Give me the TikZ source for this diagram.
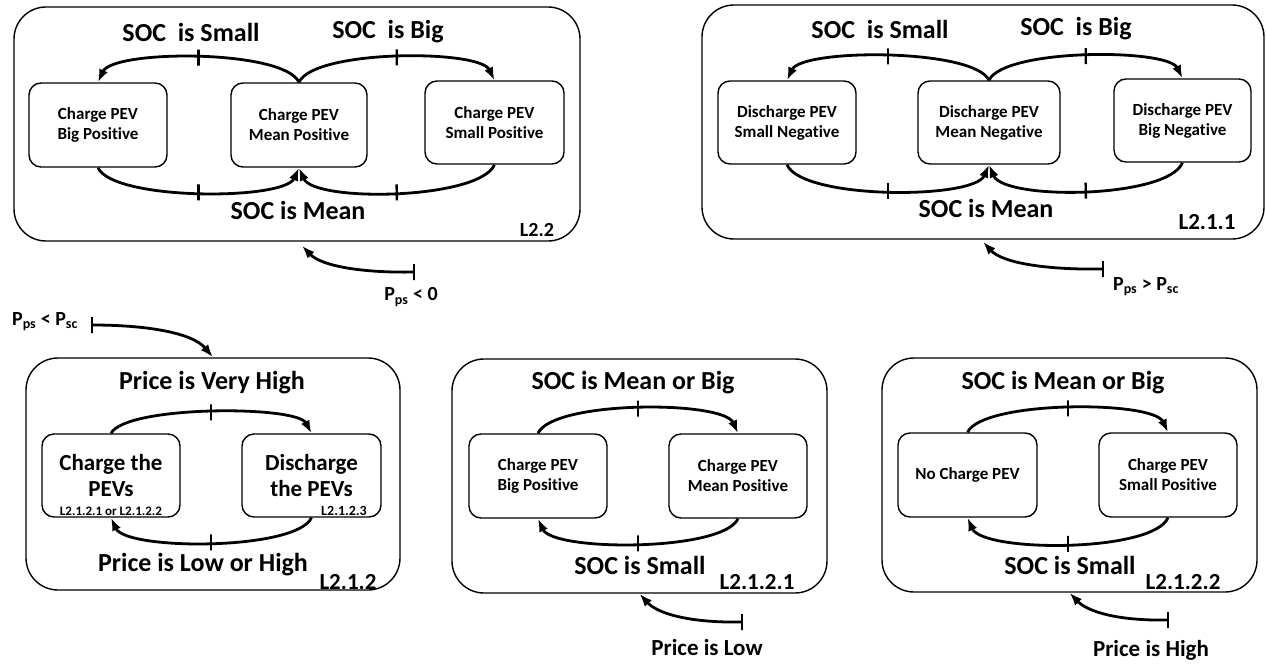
\documentclass[tikz,border=0pt]{standalone}
\usepackage{fontspec}
\setmainfont{Carlito}[Ligatures=NoCommon]
\usetikzlibrary{arrows.meta}
\newcommand\fsz[2]{\fontsize{#1}{#2}\selectfont\bfseries}
\begin{document}
\begin{tikzpicture}[x=1pt,y=-1pt,
  outer/.style={draw, line width=1.4pt, rounded corners=32pt, inner sep=0pt},
  inbox/.style={draw, line width=1.4pt, rounded corners=12pt, align=center, inner sep=0pt, font=\fsz{17}{20}},
  conn/.style={line width=2.8pt, -{Latex[length=13pt,width=9.5pt]}},
  tk/.style={draw, line width=2.4pt, line join=bevel, minimum width=0pt, minimum height=16pt, inner sep=0pt, sloped, anchor=center},
  big/.style={font=\fsz{26}{30}, inner sep=0pt},
  tag/.style={font=\fsz{23}{26}, inner sep=0pt},
  ptxt/.style={font=\fsz{20}{24}, inner sep=0pt}
  ]
\useasboundingbox (0,0) rectangle (1266,666);

% ---------- Box A : L2.2 ----------
\node[outer, minimum width=566pt, minimum height=234pt] (A) at (297,124) {};
\node[inbox, minimum width=138pt, minimum height=84pt] (a1) at (98,125) {Charge PEV\\Big Positive};
\node[inbox, minimum width=136pt, minimum height=84pt] (a2) at (299,125) {Charge PEV\\Mean Positive};
\node[inbox, minimum width=139pt, minimum height=83pt] (a3) at (494.5,122.5) {Charge PEV\\Small Positive};
\node[big] (aT1) at (191,32) {SOC\ \ is Small};
\node[big] (aT2) at (388,32) {SOC\ \ is Big};
\node[big] (aB) at (298,210) {SOC is Mean};
\node[font=\fsz{20}{24}, inner sep=0pt] (aL) at (537,230) {L2.2};
\draw[conn] (a2.north) .. controls +(-15,-33) and +(15,-33) .. (a1.north) node[tk,pos=.5]{};
\draw[conn] (a2.north) .. controls +(15,-33) and +(-15,-31) .. (a3.north) node[tk,pos=.5]{};
\draw[conn] (a1.south) .. controls +(15,33) and +(-15,33) .. (a2.south) node[tk,pos=.5]{};
\draw[conn] (a3.south) .. controls +(-15,35) and +(15,35) .. (a2.south) node[tk,pos=.5]{};
\coordinate (tA) at (414,272);
\node[ptxt] (pA) at (411,297) {P\textsubscript{ps} < 0};
\draw[conn] (tA) .. controls +(-49,1) and +(20,21) .. ([xshift=5pt,yshift=-4pt]A.south);
\node[tk] at (tA) {};

% ---------- Box B : L2.1.1 ----------
\node[outer, minimum width=562pt, minimum height=234pt] (B) at (983,122) {};
\node[inbox, minimum width=138pt, minimum height=83pt] (b1) at (787,122.5) {Discharge PEV\\Small Negative};
\node[inbox, minimum width=142pt, minimum height=83pt] (b2) at (989,122.5) {Discharge PEV\\Mean Negative};
\node[inbox, minimum width=137pt, minimum height=83pt] (b3) at (1182.5,120.5) {Discharge PEV\\Big Negative};
\node[big] (bT1) at (880,29) {SOC\ \ is Small};
\node[big] (bT2) at (1076,29) {SOC\ \ is Big};
\node[big] (bB) at (986,208) {SOC is Mean};
\node[tag] (bL) at (1207,222) {L2.1.1};
\draw[conn] (b2.north) .. controls +(-15,-32) and +(15,-32) .. (b1.north) node[tk,pos=.5]{};
\draw[conn] (b2.north) .. controls +(15,-32) and +(-15,-30) .. (b3.north) node[tk,pos=.5]{};
\draw[conn] (b1.south) .. controls +(15,35) and +(-15,35) .. (b2.south) node[tk,pos=.5]{};
\draw[conn] (b3.south) .. controls +(-15,36) and +(15,36) .. (b2.south) node[tk,pos=.5]{};
\coordinate (tB) at (1103,269);
\node[ptxt] (pB) at (1146,287) {P\textsubscript{ps} > P\textsubscript{sc}};
\draw[conn] (tB) .. controls +(-58,1) and +(19,21) .. ([yshift=-2pt]B.south);
\node[tk] at (tB) {};

% ---------- Box C : L2.1.2 ----------
\node[outer, minimum width=374pt, minimum height=232pt] (C) at (213,474) {};
\node[inbox, font=\fsz{23}{26}, minimum width=138pt, minimum height=83pt] (c1) at (111,475.5) {Charge the\\PEVs};
\node[inbox, font=\fsz{23}{26}, minimum width=139pt, minimum height=83pt] (c2) at (311.5,475.5) {Discharge\\the PEVs};
\node[font=\fsz{13}{15}, inner sep=0pt] (c1l) at (111,511) {L2.1.2.1 or L2.1.2.2};
\node[font=\fsz{14}{16}, inner sep=0pt] (c2l) at (344,511) {L2.1.2.3};
\node[big] (cT) at (212,383) {Price is Very High};
\node[big] (cB) at (203,565) {Price is Low or High};
\node[tag] (cL) at (348,582) {L2.1.2};
\draw[conn] (c1.north) .. controls +(15,-28) and +(-15,-28) .. (c2.north) node[tk,pos=.5]{};
\draw[conn] (c2.south) .. controls +(-15,33) and +(15,33) .. (c1.south) node[tk,pos=.5]{};
\coordinate (tC) at (92,325);
\node[ptxt] (pC) at (45,322) {P\textsubscript{ps} < P\textsubscript{sc}};
\draw[conn] (tC) .. controls +(53,0) and +(-21,-25) .. (C.north);
\node[tk] at (tC) {};

% ---------- Box D : L2.1.2.1 ----------
\node[outer, minimum width=375pt, minimum height=234pt] (D) at (639.5,476) {};
\node[inbox, minimum width=138pt, minimum height=84pt] (d1) at (538,476) {Charge PEV\\Big Positive};
\node[inbox, minimum width=138pt, minimum height=84pt] (d2) at (738,476) {Charge PEV\\Mean Positive};
\node[big] (dT) at (633,383) {SOC is Mean or Big};
\node[big] (dB) at (640,565) {SOC is Small};
\node[tag] (dL) at (757,582) {L2.1.2.1};
\draw[conn] (d1.north) .. controls +(15,-33) and +(-15,-33) .. (d2.north) node[tk,pos=.5]{};
\draw[conn] (d2.south) .. controls +(-15,33) and +(15,33) .. (d1.south) node[tk,pos=.5]{};
\coordinate (tD) at (742,622);
\node[tag] (pD) at (707,648) {Price is Low};
\draw[conn] (tD) .. controls +(-52,1) and +(18,20) .. (D.south);
\node[tk] at (tD) {};

% ---------- Box E : L2.1.2.2 ----------
\node[outer, minimum width=375pt, minimum height=234pt] (E) at (1069.5,475) {};
\node[inbox, minimum width=139pt, minimum height=84pt] (e1) at (967.5,475) {No Charge PEV};
\node[inbox, minimum width=138pt, minimum height=84pt] (e2) at (1168,475) {Charge PEV\\Small Positive};
\node[big] (eT) at (1063,383) {SOC is Mean or Big};
\node[big] (eB) at (1070,565) {SOC is Small};
\node[tag] (eL) at (1183,582) {L2.1.2.2};
\draw[conn] (e1.north) .. controls +(15,-32) and +(-15,-32) .. (e2.north) node[tk,pos=.5]{};
\draw[conn] (e2.south) .. controls +(-15,35) and +(15,35) .. (e1.south) node[tk,pos=.5]{};
\coordinate (tE) at (1168,620);
\node[tag] (pE) at (1151,650) {Price is High};
\draw[conn] (tE) .. controls +(-50,1) and +(18,19) .. (E.south);
\node[tk] at (tE) {};
\end{tikzpicture}
\end{document}
